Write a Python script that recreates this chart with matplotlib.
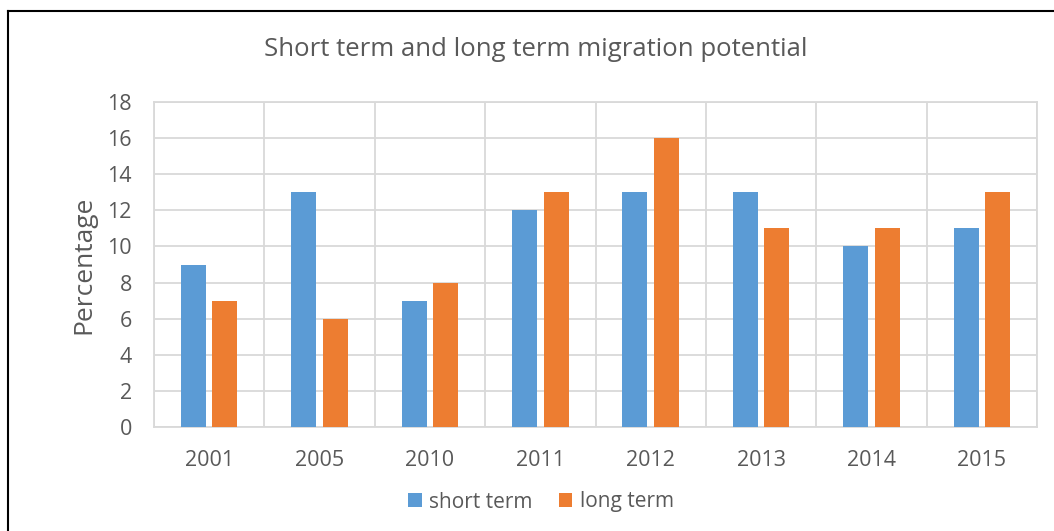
import matplotlib
matplotlib.use("Agg")
import matplotlib.pyplot as plt
import numpy as np
from matplotlib.lines import Line2D

years = ["2001", "2005", "2010", "2011", "2012", "2013", "2014", "2015"]
short_term = [9, 13, 7, 12, 13, 13, 10, 11]
long_term = [7, 6, 8, 13, 16, 11, 11, 13]
y_ticks = [0, 2, 4, 6, 8, 10, 12, 14, 16, 18]

TEXT = "#595959"
GRID = "#d9d9d9"
BLUE = "#5B9BD5"
ORANGE = "#ED7D31"
FONT = "Open Sans"

plt.rcParams["font.family"] = [FONT, "DejaVu Sans"]

W, H = 1054, 531
fig = plt.figure(figsize=(W / 100, H / 100), dpi=100)
ax = fig.add_axes([154 / W, 1 - 427 / H, (1037 - 154) / W, (427 - 102) / H])

x = np.arange(len(years))
bw = 0.227
off = 0.143
ax.bar(x - off, short_term, bw, color=BLUE, label="short term", zorder=3)
ax.bar(x + off, long_term, bw, color=ORANGE, label="long term", zorder=3)

ax.set_xlim(-0.5, len(years) - 0.5)
ax.set_ylim(0, 18)
ax.set_yticks(y_ticks)
ax.set_xticks(x)
ax.set_xticklabels(years)
ax.set_xticks(np.arange(-0.5, len(years), 1.0), minor=True)
ax.tick_params(axis="both", which="both", length=0, colors=TEXT, labelsize=15.5)
ax.tick_params(axis="y", pad=16)
ax.tick_params(axis="x", pad=16.5)
ax.grid(True, axis="y", which="major", color=GRID, lw=1.3, zorder=0)
ax.grid(True, axis="x", which="minor", color=GRID, lw=1.3, zorder=0)
ax.grid(False, axis="x", which="major")
for s in ax.spines.values():
    s.set_color(GRID)
    s.set_linewidth(1.3)

ax.set_ylabel("Percentage", fontsize=19, color=TEXT, labelpad=8)

fig.text(536 / W, 1 - 50 / H, "Short term and long term migration potential",
         ha="center", va="center", fontsize=18.5, color=TEXT)

leg = fig.legend(loc="center", bbox_to_anchor=(541 / W, 1 - 502 / H), ncol=2,
                 frameon=False, fontsize=15, labelcolor=TEXT,
                 handlelength=0.65, handleheight=0.65, handletextpad=0.35,
                 columnspacing=1.25)

# outer frame (partially visible)
fig.add_artist(Line2D([7.5 / W, 7.5 / W], [0, 1 - 11 / H], color="black", lw=1.5, transform=fig.transFigure))
fig.add_artist(Line2D([7.5 / W, 1], [1 - 11 / H, 1 - 11 / H], color="black", lw=1.5, transform=fig.transFigure))

fig.savefig("out.png", dpi=100)
